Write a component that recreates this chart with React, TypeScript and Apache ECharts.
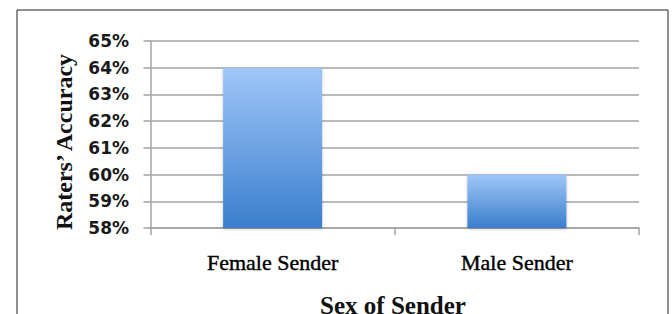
import React, { useEffect, useRef } from "react";
import * as echarts from "echarts";

const categories = ["Female Sender", "Male Sender"];
const accuracy = [0.64, 0.6];
const yMin = 0.58;
const yMax = 0.65;
const yStep = 0.01;
const yTitle = "Raters\u2019 Accuracy";
const xTitle = "Sex of Sender";

export default function App() {
  const ref = useRef<HTMLDivElement>(null);
  useEffect(() => {
    if (!ref.current) return;
    const chart = echarts.init(ref.current, null, { renderer: "svg" });
    const gridColor = "#a3a3a3";
    chart.setOption({
      animation: false,
      backgroundColor: "#ffffff",
      grid: { left: 150.5, right: 33, top: 41, bottom: 86, containLabel: false },
      xAxis: {
        type: "category",
        data: categories,
        boundaryGap: true,
        axisLine: { show: true, lineStyle: { color: gridColor, width: 1.5 } },
        axisTick: { show: true, length: 7, alignWithLabel: false, lineStyle: { color: gridColor, width: 1.5 } },
        axisLabel: {
          margin: 23,
          fontFamily: "Liberation Serif",
          fontSize: 22,
          color: "#000000",
          textBorderColor: "#000000",
          textBorderWidth: 0.4,
        },
        splitLine: { show: false },
      },
      yAxis: {
        type: "value",
        min: yMin,
        max: yMax,
        interval: yStep,
        axisLine: { show: true, lineStyle: { color: gridColor, width: 1.5 } },
        axisTick: { show: true, length: 7, lineStyle: { color: gridColor, width: 1.5 } },
        splitLine: { show: true, lineStyle: { color: gridColor, width: 1.5 } },
        axisLabel: {
          margin: 21.5,
          fontFamily: "DejaVu Sans",
          fontWeight: "bold",
          fontSize: 17,
          color: "#1a1a1a",
          formatter: (v: number) => Math.round(v * 100) + "%",
        },
      },
      series: [
        {
          type: "bar",
          data: accuracy,
          barWidth: 99,
          itemStyle: {
            color: new echarts.graphic.LinearGradient(0, 0, 0, 1, [
              { offset: 0, color: "#a0c7f8" },
              { offset: 1, color: "#3a7ecd" },
            ]),
            shadowColor: "rgba(0,0,0,0.25)",
            shadowBlur: 3,
            shadowOffsetY: 1,
          },
        },
      ],
      graphic: [
        {
          type: "rect",
          shape: { x: 17, y: 10, width: 651, height: 330 },
          style: { fill: "none", stroke: "#222222", lineWidth: 1 },
          silent: true,
          z: 10,
        },
        {
          type: "text",
          x: 64,
          y: 142,
          rotation: Math.PI / 2,
          style: {
            text: yTitle,
            fontFamily: "Liberation Serif",
            fontWeight: "bold",
            fontSize: 24,
            fill: "#111111",
            textAlign: "center",
            textVerticalAlign: "middle",
          },
        },
        {
          type: "text",
          x: 393,
          y: 305,
          style: {
            text: xTitle,
            fontFamily: "Liberation Serif",
            fontWeight: "bold",
            fontSize: 25,
            fill: "#111111",
            textAlign: "center",
            textVerticalAlign: "middle",
          },
        },
      ],
    });
    return () => chart.dispose();
  }, []);
  return (
    <div
      ref={ref}
      style={{ position: "fixed", left: 0, top: 0, width: 672, height: 314 }}
    />
  );
}
